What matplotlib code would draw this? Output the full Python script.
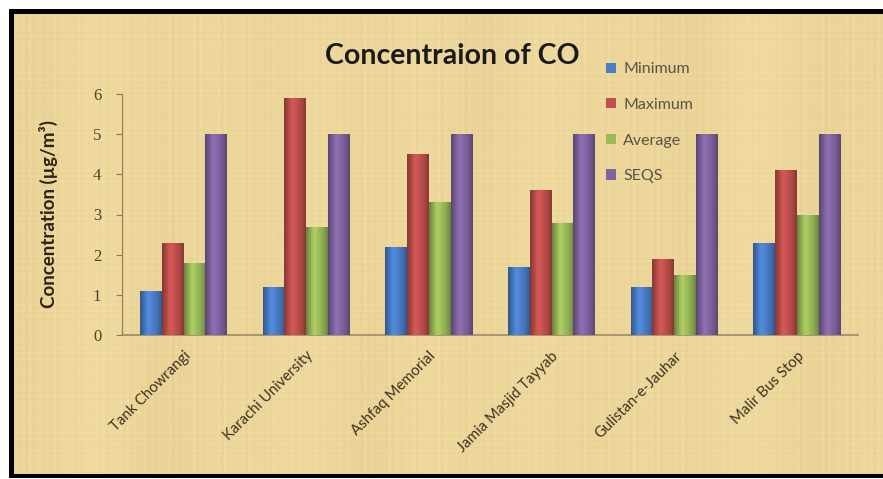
import numpy as np
import matplotlib
matplotlib.use("Agg")
import matplotlib.pyplot as plt
from matplotlib.patches import Rectangle
from matplotlib.colors import to_rgb

sites = ["Tank Chowrangi", "Karachi University", "Ashfaq Memorial",
         "Jamia Masjid Tayyab", "Gulistan-e-Jauhar", "Malir Bus Stop"]
minimum = [1.1, 1.2, 2.2, 1.7, 1.2, 2.3]
maximum = [2.3, 5.9, 4.5, 3.6, 1.9, 4.1]
average = [1.8, 2.7, 3.3, 2.8, 1.5, 3.0]
seqs = [5, 5, 5, 5, 5, 5]
series_names = ["Minimum", "Maximum", "Average", "SEQS"]
series_colors = ["#4a7ec8", "#c0504d", "#9bbb59", "#8064a2"]
yticks = [0, 1, 2, 3, 4, 5, 6]

W, H = 883, 479
fig = plt.figure(figsize=(W / 100, H / 100), dpi=100)
fig.patch.set_facecolor("white")

# papyrus-like background with a fine fibre pattern
bg = fig.add_axes([0, 0, 1, 1], zorder=-10)
bg.set_axis_off()
yy, xx = np.mgrid[0:H, 0:W]
fib = (0.5 * np.sin(xx * 0.9) * np.sin(xx * 0.13 + 1.0)
       + 0.4 * np.sin(xx * 0.047 + 0.5) * np.sin(xx * 0.011)
       + 0.35 * np.sin(yy * 1.1) * np.sin(yy * 0.07 + 2.0)
       + 0.25 * np.sin(xx * 0.031 + yy * 0.004))
base = np.array([242, 222, 164]) / 255.0
dark = np.array([222, 192, 128]) / 255.0
t = (fib - fib.min()) / (fib.max() - fib.min())
tex = base[None, None, :] * (1 - 0.5 * t[..., None]) + dark[None, None, :] * 0.5 * t[..., None]
bg.imshow(tex, extent=[0, W, H, 0], aspect="auto", interpolation="bilinear")
bg.set_xlim(0, W)
bg.set_ylim(H, 0)
# white margin and black frame
bg.add_patch(Rectangle((0, 0), W, 9, facecolor="white", edgecolor="none"))
bg.add_patch(Rectangle((0, 0), 9, H, facecolor="white", edgecolor="none"))
bg.add_patch(Rectangle((9, 9), W + 20, 5, facecolor="black", edgecolor="none"))
bg.add_patch(Rectangle((9, 9), 5, H - 9, facecolor="black", edgecolor="none"))
bg.add_patch(Rectangle((9, 474), W + 20, 4, facecolor="black", edgecolor="none"))
bg.add_patch(Rectangle((0, 478), W, 2, facecolor="white", edgecolor="none"))

ax = fig.add_axes([122 / W, 1 - 335 / H, (858 - 122) / W, (335 - 94) / H])
ax.set_facecolor("none")

x = np.arange(len(sites))
width = 0.178
all_series = [minimum, maximum, average, seqs]
offsets = (np.arange(4) - 1.5) * width


def shade(color):
    c = np.array(to_rgb(color))
    u = np.linspace(-1, 1, 32)
    k = 1 - 0.3 * u ** 2
    k = k + 0.12 * np.exp(-((u + 0.25) / 0.3) ** 2)
    img = np.clip(c[None, :] * k[:, None], 0, 1)
    return img[None, :, :]


for vals, off, col, name in zip(all_series, offsets, series_colors, series_names):
    bars = ax.bar(x + off, vals, width * 0.98, color=col, label=name, zorder=2)
    for b in bars:
        x0, y0 = b.get_x(), b.get_y()
        w, h = b.get_width(), b.get_height()
        im = ax.imshow(shade(col), extent=[x0, x0 + w, y0, y0 + h],
                       aspect="auto", zorder=3, interpolation="bilinear")
        im.set_clip_path(b)

ax.set_xlim(-0.5, len(sites) - 0.5)
ax.set_ylim(0, 6)
ax.set_yticks(yticks)
ax.set_yticklabels([str(v) for v in yticks], family="Liberation Serif",
                   fontsize=12, color="#4a4230")
ax.tick_params(axis="y", length=4, color="#8a7a5a", pad=11)
ax.set_xticks(x)
ax.set_xticklabels(sites, rotation=45, ha="right", rotation_mode="anchor",
                   fontsize=10.7, family="Lato", color="#3a3320")
ax.tick_params(axis="x", length=0, pad=10)
for s in ["top", "right"]:
    ax.spines[s].set_visible(False)
ax.spines["left"].set_color("#8a7a5a")
ax.spines["bottom"].set_color("#9a8a6a")
ax.spines["bottom"].set_linewidth(1.2)
ax.set_ylabel("Concentration (µg/m³)", fontsize=13.5, fontweight="bold",
              family="Lato", color="#2a2418", labelpad=25)

fig.text(452 / W, 1 - 56 / H, "Concentraion of CO", ha="center", va="center",
         fontsize=20.5, fontweight="bold", family="Lato", color="#1a1a1a")

handles, labels = ax.get_legend_handles_labels()
leg = fig.legend(handles, labels, loc="upper left",
                 bbox_to_anchor=(592 / W, 1 - 48 / H), frameon=False,
                 handlelength=0.6, handleheight=0.6, handletextpad=0.45,
                 labelspacing=1.35, prop={"family": "Lato", "size": 11.5})
for txt in leg.get_texts():
    txt.set_color("#5a5448")

fig.savefig("out.png", dpi=100)
